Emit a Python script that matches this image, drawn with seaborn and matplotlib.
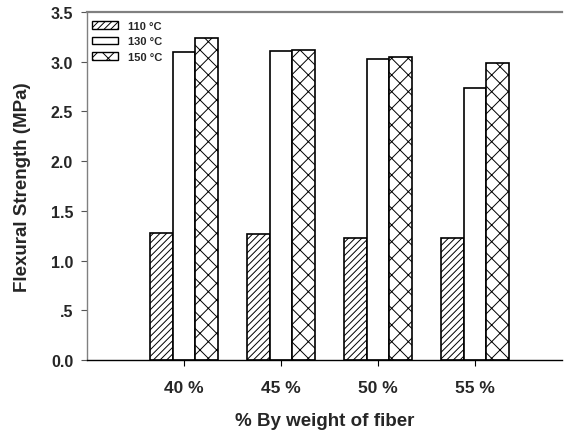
import matplotlib
matplotlib.use("Agg")
import matplotlib.pyplot as plt
import matplotlib.patches as mpatches
import seaborn as sns
import pandas as pd

categories = ["40 %", "45 %", "50 %", "55 %"]
series_names = ["110 °C", "130 °C", "150 °C"]
vals_110 = [1.28, 1.27, 1.23, 1.23]
vals_130 = [3.10, 3.11, 3.03, 2.74]
vals_150 = [3.24, 3.12, 3.05, 2.99]
ytick_vals = [0.0, 0.5, 1.0, 1.5, 2.0, 2.5, 3.0, 3.5]
ytick_labels = ["0.0", ".5", "1.0", "1.5", "2.0", "2.5", "3.0", "3.5"]

rows = []
for name, vals in zip(series_names, [vals_110, vals_130, vals_150]):
    for c, v in zip(categories, vals):
        rows.append({"cat": c, "series": name, "val": v})
df = pd.DataFrame(rows)

sns.set_style("ticks")
plt.rcParams["font.family"] = ["Liberation Sans", "DejaVu Sans"]
plt.rcParams["hatch.linewidth"] = 0.7

fig = plt.figure(figsize=(5.64, 4.35), dpi=100)
ax = fig.add_axes([0.154, 0.170, 0.843, 0.800])

sns.barplot(data=df, x="cat", y="val", hue="series", order=categories,
            hue_order=series_names, palette=["white"] * 3, width=0.7,
            edgecolor="black", linewidth=1.2, ax=ax, errorbar=None,
            saturation=1)

hatches = ["/////", "", "xx"]
for cont, h in zip(ax.containers, hatches):
    for p in cont.patches:
        p.set_hatch(h)
        p.set_facecolor("white")
        p.set_edgecolor("black")

handles = []
for name, h in zip(series_names, hatches):
    handles.append(mpatches.Patch(facecolor="white", edgecolor="black",
                                  hatch=h, label=name, linewidth=1.0))
leg = ax.legend(handles=handles, loc="upper left", frameon=False,
                prop={"weight": "bold", "size": 8}, handlelength=2.35,
                handleheight=0.7, labelspacing=0.5, handletextpad=0.9,
                borderaxespad=0.0, borderpad=0.0,
                bbox_to_anchor=(0.01, 0.975))

ax.set_xlim(-1, 3.9)
ax.set_ylim(0, 3.5)
ax.set_yticks(ytick_vals)
ax.set_yticklabels(ytick_labels)
for lbl in ax.get_xticklabels():
    lbl.set_fontweight("bold")
    lbl.set_fontsize(12.5)
for lbl in ax.get_yticklabels():
    lbl.set_fontweight("bold")
    lbl.set_fontsize(11.5)
ax.set_xlabel("% By weight of fiber", fontsize=13.5, fontweight="bold", labelpad=12)
ax.set_ylabel("Flexural Strength (MPa)", fontsize=13.5, fontweight="bold")
ax.yaxis.set_label_coords(-0.117, 0.5)
ax.tick_params(axis="x", length=4.3, pad=10, color="black")
ax.tick_params(axis="y", length=4.3, pad=5.5, color="#555555")

ax.spines["right"].set_visible(False)
ax.spines["top"].set_visible(True)
ax.spines["top"].set_color("#808080")
ax.spines["top"].set_linewidth(1.6)
ax.spines["left"].set_color("#808080")
ax.spines["left"].set_linewidth(1.0)
ax.spines["bottom"].set_color("black")
ax.spines["bottom"].set_linewidth(1.0)

fig.savefig("out.png", dpi=100)
